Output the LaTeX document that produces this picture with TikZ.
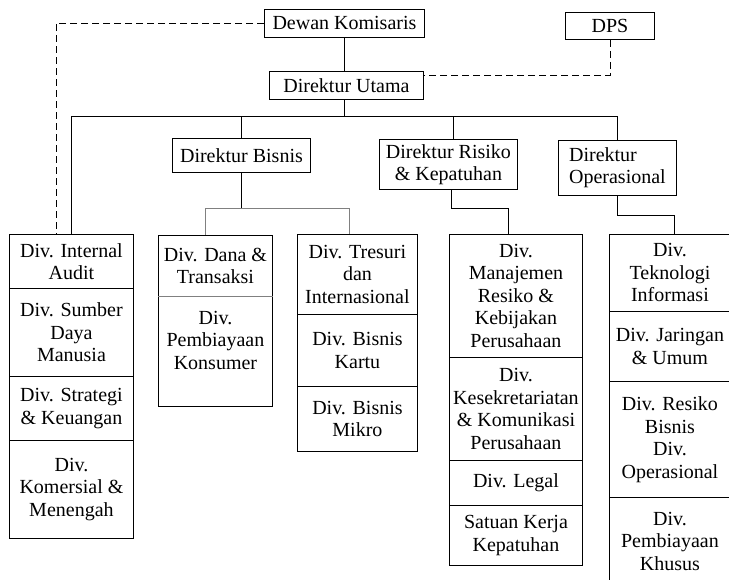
\documentclass[tikz,border=0pt]{standalone}
\usepackage{fontspec}
\setmainfont{Liberation Serif}
\usepackage{tikz}

\begin{document}
\begin{tikzpicture}[x=1pt, y=-1pt,
    jabatan/.style={draw, line width=0.9pt, anchor=north west, inner sep=0pt,
      align=center, font=\fontsize{20}{22}\selectfont},
    divisi/.style={draw, line width=0.9pt, anchor=north west, inner sep=0pt,
      align=center, font=\fontsize{20}{22.5}\selectfont},
    garis/.style={line width=0.9pt},
    abu/.style={line width=0.9pt, gray},
    putus/.style={line width=0.9pt, dash pattern=on 7pt off 4pt}]
    \useasboundingbox (0,0) rectangle (729,580);

    %% pimpinan
    \node[jabatan, minimum width=160pt, minimum height=28pt] (komisaris) at (264,9) {Dewan Komisaris};
    \node[jabatan, minimum width=89pt, minimum height=27pt] (dps) at (565,12) {DPS};
    \node[jabatan, minimum width=154pt, minimum height=28pt] (utama) at (269,71) {Direktur Utama};

    %% direktur
    \node[jabatan, minimum width=138pt, minimum height=34pt] (bisnis) at (172,138) {Direktur Bisnis};
    \node[jabatan, minimum width=138pt, minimum height=50pt] (risiko) at (379,139) {Direktur Risiko\\\& Kepatuhan};
    \node[jabatan, minimum width=118pt, minimum height=55pt, align=left] (operasional) at (558,140) {Direktur\\Operasional};

    %% divisi di bawah direktur utama
    \node[divisi, minimum width=124pt, minimum height=54pt] (audit) at (9,234) {Div. Internal\\Audit};
    \node[divisi, minimum width=124pt, minimum height=88pt] (sdm) at (9,288) {Div. Sumber\\Daya\\Manusia};
    \node[divisi, minimum width=124pt, minimum height=64pt] (strategi) at (9,376) {Div. Strategi\\\& Keuangan};
    \node[divisi, minimum width=124pt, minimum height=98pt] (komersial) at (9,440) {Div.\\Komersial \&\\Menengah};

    %% divisi bisnis
    \node[divisi, minimum width=114pt, minimum height=61pt] (dana) at (158,235) {Div. Dana \&\\Transaksi};
    \node[divisi, minimum width=114pt, minimum height=110pt] (konsumer) at (158,296) {Div.\\Pembiayaan\\Konsumer\\ \mbox{}};
    \draw[abu] (konsumer.north west) -- (konsumer.north east);
    \node[divisi, minimum width=120pt, minimum height=80pt] (tresuri) at (297,234) {Div. Tresuri\\dan\\Internasional};
    \node[divisi, minimum width=120pt, minimum height=72pt] (kartu) at (297,314) {Div. Bisnis\\Kartu};
    \node[divisi, minimum width=120pt, minimum height=65pt] (mikro) at (297,386) {Div. Bisnis\\Mikro};

    %% divisi risiko & kepatuhan
    \node[divisi, minimum width=133pt, minimum height=123pt] (manajemen) at (449,234) {Div.\\Manajemen\\Resiko \&\\Kebijakan\\Perusahaan};
    \node[divisi, minimum width=133pt, minimum height=103pt] (sekretariat) at (449,357) {Div.\\Kesekretariatan\\\& Komunikasi\\Perusahaan};
    \node[divisi, minimum width=133pt, minimum height=45pt] (legal) at (449,460) {Div. Legal};
    \node[divisi, minimum width=133pt, minimum height=60pt] (kepatuhan) at (449,505) {Satuan Kerja\\Kepatuhan};

    %% divisi operasional
    \node[divisi, minimum width=121pt, minimum height=77pt] (teknologi) at (609,234) {Div.\\Teknologi\\Informasi};
    \node[divisi, minimum width=121pt, minimum height=70pt] (jaringan) at (609,311) {Div. Jaringan\\\& Umum};
    \node[divisi, minimum width=121pt, minimum height=116pt] (resikobisnis) at (609,381) {Div. Resiko\\Bisnis\\Div.\\Operasional};
    \node[divisi, minimum width=121pt, minimum height=88pt] (khusus) at (609,497) {Div.\\Pembiayaan\\Khusus};

    %% garis komando
    \coordinate (bus) at (0,116);
    \coordinate (cabang) at (0,208);
    \coordinate (turun) at (0,215);
    \draw[garis] (komisaris.south) -- (komisaris.south |- utama.north);
    \draw[garis] (komisaris.south |- utama.south) -- (komisaris.south |- bus);
    \draw[garis] (audit.north) |- (operasional.north |- bus) -- (operasional.north);
    \draw[garis] (bisnis.north) -- (bisnis.north |- bus);
    \draw[garis] ([xshift=5pt]risiko.north) -- ([xshift=5pt]risiko.north |- bus);

    %% cabang bisnis
    \coordinate (d1) at ([xshift=-10pt]dana.north);
    \coordinate (t1) at ([xshift=-8pt]tresuri.north);
    \draw[garis] (bisnis.south) -- (bisnis.south |- cabang);
    \draw[abu] (d1) |- (t1 |- cabang) -- (t1);

    %% cabang risiko dan operasional
    \coordinate (r1) at ([xshift=3pt]risiko.south);
    \coordinate (m1) at ([xshift=-8pt]manajemen.north);
    \draw[garis] (r1) |- (m1 |- cabang) -- (m1);
    \coordinate (k1) at ([xshift=4pt]teknologi.north);
    \draw[garis] (operasional.south) |- (k1 |- turun) -- (k1);

    %% garis putus
    \draw[putus] (komisaris.west) -| ([xshift=47pt]audit.north west);
    \draw[putus] (dps.south) |- ([yshift=-4pt]utama.north east);
\end{tikzpicture}
\end{document}
